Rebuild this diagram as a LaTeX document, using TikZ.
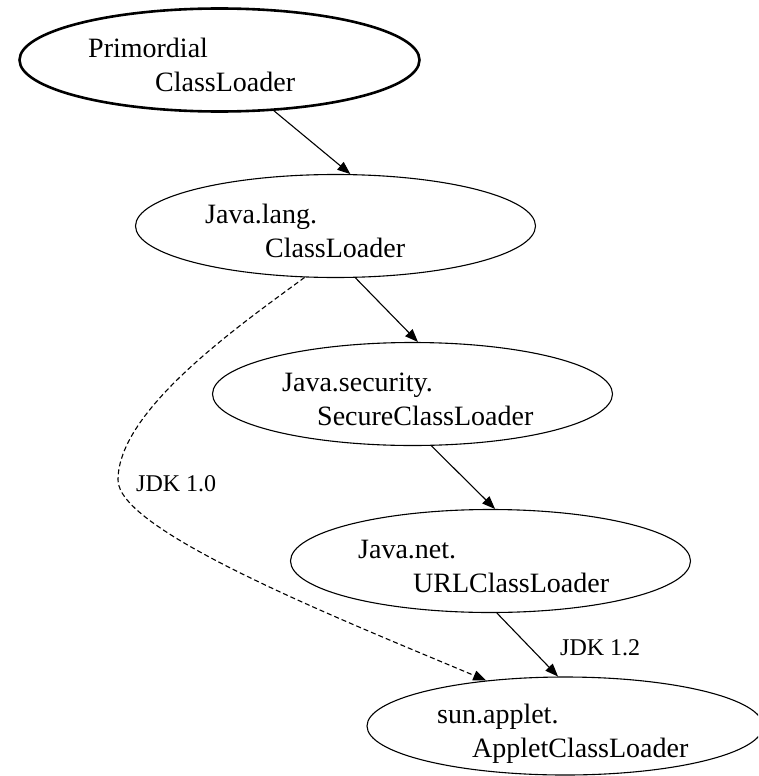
\documentclass[tikz,border=0pt]{standalone}
\usepackage{fontspec}
\setmainfont{Liberation Serif}
\usetikzlibrary{shapes.geometric,arrows.meta}
\begin{document}
\begin{tikzpicture}[x=1pt,y=-1pt,
  loader/.style={ellipse,draw,line width=1.1pt,inner sep=0pt,minimum width=400pt,minimum height=103pt},
  rootloader/.style={loader,line width=2.6pt},
  txt/.style={anchor=base west,inner sep=0pt,font=\fontsize{28}{33}\selectfont},
  lbl/.style={anchor=base west,inner sep=0pt,font=\fontsize{24}{28}\selectfont},
  edge/.style={line width=1.1pt,-{Triangle[length=13pt,width=10pt]}},
  dashedge/.style={edge,dash pattern=on 5pt off 3pt}]
\useasboundingbox (0,0) rectangle (758,776);
\clip (0,0) rectangle (758,776);
% ellipses
\node[rootloader] (e1) at (219.5,60) {};
\node[loader] (e2) at (335.5,226) {};
\node[loader] (e3) at (412.5,394) {};
\node[loader] (e4) at (490.5,561) {};
\node[loader,minimum width=396pt,minimum height=98pt] (e5) at (565,726) {};
% texts
\node[txt] (t1a) at (88,57) {Primordial};
\node[txt] (t1b) at (155,91) {ClassLoader};
\node[txt] (t2a) at (205,223) {Java.lang.};
\node[txt] (t2b) at (265,257) {ClassLoader};
\node[txt] (t3a) at (282,391) {Java.security.};
\node[txt] (t3b) at (317,425) {SecureClassLoader};
\node[txt] (t4a) at (358,558) {Java.net.};
\node[txt] (t4b) at (413,592) {URLClassLoader};
\node[txt] (t5a) at (437,723) {sun.applet.};
\node[txt] (t5b) at (472,757) {AppletClassLoader};
% edges
\draw[edge] (e1.-43) -- (e2.74);
\draw[edge] (e2.-69.4) -- (e3.84);
\draw[edge] (e3.-70) -- (e4.85);
\draw[edge] (e4.-83) -- (e5.98);
\draw[dashedge] (e2.-121.5) .. controls (240,325) and (118,410) .. (118,480)
  .. controls (118,530) and (330,615) .. (e5.150);
% labels
\node[lbl] (l10) at (136,491) {JDK 1.0};
\node[lbl] (l12) at (560,655) {JDK 1.2};
\end{tikzpicture}
\end{document}
